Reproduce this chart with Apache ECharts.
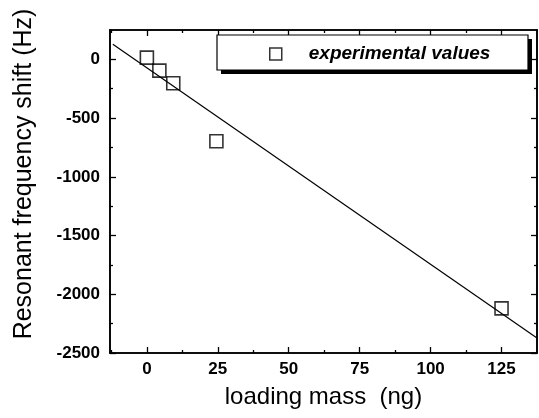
<!DOCTYPE html>
<html>
<head>
<meta charset="utf-8">
<script src="https://cdn.jsdelivr.net/npm/echarts@6/dist/echarts.min.js"></script>
<style>
  html, body { margin: 0; padding: 0; background: #fff; }
  #chart { width: 539px; height: 418px; }
</style>
</head>
<body>
<div id="chart"></div>
<script>
// measured points (loading mass in ng, frequency shift in Hz)
var massData = [0, 4.4, 9.3, 24.5, 125];
var shiftData = [15, -96, -204, -697, -2120];

// linear fit line, end points
var fitMass = [-12, 137.5];
var fitShift = [128, -2372];

var xMajor = [0, 25, 50, 75, 100, 125];
var xMinor = [-12.5, 12.5, 37.5, 62.5, 87.5, 112.5];
var yMajor = [-2500, -2000, -1500, -1000, -500, 0];
var yMinor = [-2250, -1750, -1250, -750, -250];

var FONT = '"Liberation Sans", Arial, sans-serif';
var X_MIN = -13, X_MAX = 137.5, Y_MIN = -2500, Y_MAX = 250;

function pairs(a, b) {
  return a.map(function (v, i) { return [v, b[i]]; });
}

function plain(v) {
  return String(v);
}

function xAxisDef(pos, ticks, len, withLabels) {
  return {
    type: 'value',
    position: pos,
    min: X_MIN,
    max: X_MAX,
    splitLine: { show: false },
    axisLine: { show: true, onZero: false, lineStyle: { color: '#000', width: 1.6 } },
    axisTick: { show: true, inside: true, length: len, customValues: ticks, lineStyle: { color: '#000', width: 1.3 } },
    axisLabel: withLabels ? {
      show: true, customValues: ticks, margin: 8, formatter: plain,
      color: '#000', fontFamily: FONT, fontWeight: 'bold', fontSize: 17
    } : { show: false }
  };
}

function yAxisDef(pos, ticks, len, withLabels) {
  return {
    type: 'value',
    position: pos,
    min: Y_MIN,
    max: Y_MAX,
    splitLine: { show: false },
    axisLine: { show: true, onZero: false, lineStyle: { color: '#000', width: 1.6 } },
    axisTick: { show: true, inside: true, length: len, customValues: ticks, lineStyle: { color: '#000', width: 1.3 } },
    axisLabel: withLabels ? {
      show: true, customValues: ticks, margin: 10, formatter: plain,
      color: '#000', fontFamily: FONT, fontWeight: 'bold', fontSize: 17
    } : { show: false }
  };
}

var chart = echarts.init(document.getElementById('chart'));

var xBottom = xAxisDef('bottom', xMajor, 6, true);
xBottom.name = 'loading mass  (ng)';
xBottom.nameLocation = 'middle';
xBottom.nameGap = 32;
xBottom.nameTextStyle = { color: '#000', fontFamily: FONT, fontSize: 24 };

var option = {
  animation: false,
  backgroundColor: '#fff',
  grid: {
    left: 110, top: 30, right: 2, bottom: 65,
    outerBoundsMode: 'none'
  },
  xAxis: [
    xBottom,
    xAxisDef('bottom', xMinor, 3, false),
    xAxisDef('top', xMajor, 6, false),
    xAxisDef('top', xMinor, 3, false)
  ],
  yAxis: [
    yAxisDef('left', yMajor, 6, true),
    yAxisDef('left', yMinor, 3, false),
    yAxisDef('right', yMajor, 6, false),
    yAxisDef('right', yMinor, 3, false)
  ],
  legend: {
    left: 269,
    top: 44,
    data: [{
      name: 'experimental values',
      icon: 'rect',
      itemStyle: { color: 'rgba(255,255,255,0)', borderColor: '#000', borderWidth: 1.5 }
    }],
    itemWidth: 12,
    itemHeight: 12,
    padding: 0,
    z: 10,
    textStyle: {
      color: '#000', fontFamily: FONT, fontSize: 19,
      fontWeight: 'bold', fontStyle: 'italic',
      padding: [0, 0, 0, 22], lineHeight: 20
    }
  },
  graphic: [
    {
      // legend frame shadow
      type: 'rect',
      z: 5,
      shape: { x: 221, y: 39, width: 311, height: 35 },
      style: { fill: '#000' }
    },
    {
      // legend frame
      type: 'rect',
      z: 6,
      shape: { x: 217, y: 35, width: 311, height: 35 },
      style: { fill: '#fff', stroke: '#000', lineWidth: 1.2 }
    },
    {
      type: 'text',
      x: 24,
      y: 174,
      rotation: Math.PI / 2,
      style: {
        text: 'Resonant frequency shift (Hz)',
        fill: '#000',
        font: '25px ' + FONT,
        align: 'center',
        verticalAlign: 'middle'
      }
    }
  ],
  series: [
    {
      name: 'fit',
      type: 'line',
      xAxisIndex: 0,
      yAxisIndex: 0,
      symbol: 'none',
      silent: true,
      lineStyle: { color: '#000', width: 1.2 },
      data: pairs(fitMass, fitShift),
      z: 2
    },
    {
      name: 'experimental values',
      type: 'scatter',
      xAxisIndex: 0,
      yAxisIndex: 0,
      symbol: 'rect',
      symbolSize: 13,
      itemStyle: { color: 'rgba(255,255,255,0)', borderColor: '#000', borderWidth: 1.6 },
      data: pairs(massData, shiftData),
      z: 3
    }
  ]
};

chart.setOption(option);
</script>
</body>
</html>
